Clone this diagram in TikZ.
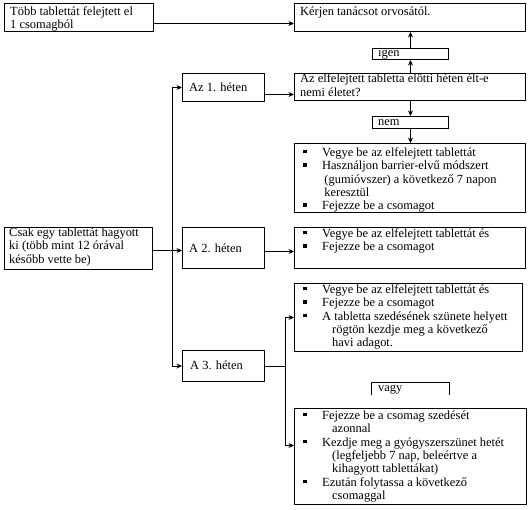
\documentclass[tikz,border=0pt]{standalone}
\usepackage{fontspec}
\setmainfont{Liberation Serif}
\usetikzlibrary{arrows.meta}
\newcommand\mybul{\makebox[18.75bp][l]{\rule[3bp]{3.5bp}{3.5bp}}}
\newcommand\mycont{\hspace*{28.75bp}}
\newcommand\mycontb{\hspace*{21bp}}
\tikzset{
  box/.style={draw, line width=1bp, inner sep=0pt, anchor=north west},
  txt/.style={inner sep=0pt, anchor=north west, align=left, font=\fontsize{12.5}{13.5}\selectfont},
  ln/.style={line width=1bp},
  arr/.style={line width=1bp, -{Stealth[length=5.5bp,width=5bp]}},
}
\begin{document}
\begin{tikzpicture}[x=1bp,y=-1bp]
\useasboundingbox (0,0) rectangle (531,510);
% boxes
\node[box,minimum width=149bp,minimum height=28bp] (tobb) at (4,3) {};
\node[box,minimum width=231bp,minimum height=28bp] (kerjen) at (294,3) {};
\node[box,minimum width=76bp,minimum height=11bp] (igen) at (372,48) {};
\node[box,minimum width=231bp,minimum height=27bp] (q) at (294,73) {};
\node[box,minimum width=82bp,minimum height=28bp] (az1) at (182,73) {};
\node[box,minimum width=76bp,minimum height=12bp] (nem) at (372,116) {};
\node[box,minimum width=231bp,minimum height=69bp] (bl1) at (294,143) {};
\node[box,minimum width=148bp,minimum height=42bp] (csak) at (4,227) {};
\node[box,minimum width=82bp,minimum height=41bp] (az2) at (182,227) {};
\node[box,minimum width=231bp,minimum height=41bp] (bl2) at (294,227) {};
\node[box,minimum width=228bp,minimum height=68bp] (bl3) at (294,283) {};
\node[box,minimum width=82bp,minimum height=31bp] (az3) at (182,350) {};
\node[inner sep=0pt,anchor=north west,minimum width=78bp,minimum height=13bp] (vagy) at (371,382) {};
\draw[ln] (vagy.south west) -- (vagy.north west) -- (vagy.north east) -- (vagy.south east);
\node[box,minimum width=232bp,minimum height=96bp] (bl4) at (294,408) {};
% texts
\node[txt] (tobb-t) at (10,5.55) {\strut Több tablettát felejtett el\\1 csomagból};
\node[txt] (kerjen-t) at (300,5.55) {\strut Kérjen tanácsot orvosától.};
\node[txt] (igen-t) at (378,46.55) {\strut igen};
\node[txt] (q-t) at (300,73.05) {\strut Az elfelejtett tabletta elötti héten élt-e\\nemi életet?};
\node[txt] (az1-t) at (189,81.55) {\strut Az 1. héten};
\node[txt] (nem-t) at (378,116.05) {\strut nem};
\node[txt] (bl1-t) at (303.25,146.55) {\strut\mybul Vegye be az elfelejtett tablettát\\
  \mybul Használjon barrier-elvű módszert\\
  \mycontb(gumióvszer) a következő 7 napon\\
  \mycontb keresztül\\
  \mybul Fejezze be a csomagot};
\node[txt] (csak-t) at (9,226.55) {\strut Csak egy tablettát hagyott\\ki (több mint 12 órával\\később vette be)};
\node[txt] (az2-t) at (189,242.55) {\strut A 2. héten};
\node[txt] (bl2-t) at (303.25,227.55) {\strut\mybul Vegye be az elfelejtett tablettát és\\
  \mybul Fejezze be a csomagot};
\node[txt] (bl3-t) at (303.25,283.55) {\strut\mybul Vegye be az elfelejtett tablettát és\\
  \mybul Fejezze be a csomagot\\
  \mybul A tabletta szedésének szünete helyett\\
  \mycont rögtön kezdje meg a következő\\
  \mycont havi adagot.};
\node[txt] (az3-t) at (190,359.55) {\strut A 3. héten};
\node[txt] (vagy-t) at (378,381.55) {\strut vagy};
\node[txt] (bl4-t) at (303.25,409.55) {\strut\mybul Fejezze be a csomag szedését\\
  \mycont azonnal\\
  \mybul Kezdje meg a gyógyszerszünet hetét\\
  \mycont (legfeljebb 7 nap, beleértve a\\
  \mycont kihagyott tablettákat)\\
  \mybul Ezután folytassa a következő\\
  \mycont csomaggal};
% connectors
\draw[arr] ([yshift=-6bp]tobb.east) -- ([yshift=-6bp]tobb.east -| kerjen.west);
\draw[arr] (igen.south |- q.north) -- (igen.south);
\draw[arr] (igen.north) -- (igen.north |- kerjen.south);
\draw[arr] (nem.north |- q.south) -- (nem.north);
\draw[arr] (nem.south) -- (nem.south |- bl1.north);
\draw[arr] ([yshift=-7bp]az1.east) -- ([yshift=-7bp]az1.east -| q.west);
\coordinate (trT) at ([xshift=-10bp]az1.west);
\coordinate (trB) at ([xshift=-10bp]az3.west);
\draw[ln] (trT) -- (trB);
\draw[arr] (trT) -- (az1.west);
\draw[arr] (trB) -- (az3.west);
\draw[arr] ([yshift=-2bp]csak.east) -- ([yshift=-2bp]csak.east -| az2.west);
\draw[arr] ([yshift=-3.5bp]az2.east) -- ([yshift=-3.5bp]az2.east -| bl2.west);
\coordinate (br) at ([xshift=20bp]az3.east);
\coordinate (b3in) at (br |- bl3.west);
\coordinate (b4in) at ([yshift=11bp]br |- bl4.west);
\draw[ln] (az3.east) -- (br);
\draw[ln] (b3in) -- (b4in);
\draw[arr] (b3in) -- (b3in -| bl3.west);
\draw[arr] (b4in) -- (b4in -| bl4.west);
\end{tikzpicture}
\end{document}
